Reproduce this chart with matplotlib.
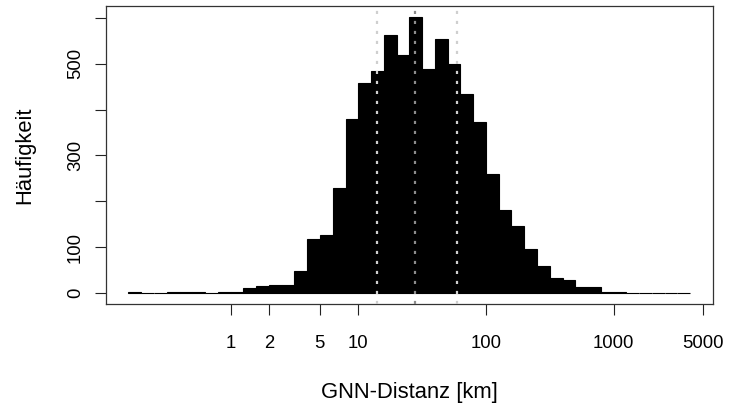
import numpy as np
import matplotlib
matplotlib.use("Agg")
import matplotlib.pyplot as plt

# histogram of log10(GNN distance in km), bin width 0.1
log_edges = np.round(np.arange(-0.8, 3.61, 0.1), 1)
counts = [2, 0, 0, 2, 2, 2, 0, 3,
          3, 10, 16, 18, 18, 48, 117, 126, 230, 379,
          457, 484, 562, 520, 602, 488, 555, 499, 435, 374,
          260, 182, 147, 96, 59, 33, 28, 13, 13, 3,
          3, 1, 1, 0, 1, 1]

# quartiles marked with dotted lines (km)
q_low, q_med, q_high = 13.9, 28.0, 59.1

xticks = [1, 2, 5, 10, 100, 1000, 5000]
xticklabels = ["1", "2", "5", "10", "100", "1000", "5000"]
yticks = [0, 100, 200, 300, 400, 500, 600]
yticklabels = ["0", "100", "", "300", "", "500", ""]

plt.rcParams["font.family"] = ["Liberation Sans", "DejaVu Sans"]

fig = plt.figure(figsize=(7.3, 4.07), dpi=100)
ax = fig.add_axes([106/730, 1 - 304/407, (712.7 - 106)/730, 298/407])

left = 10.0 ** log_edges[:-1]
right = 10.0 ** log_edges[1:]
ax.bar(left, counts, width=right - left, align="edge",
       color="black", edgecolor="black", linewidth=0.8, zorder=2)

dots = (0, (1.4, 3.1))
ax.axvline(q_low, color="#cfcfcf", lw=1.6, linestyle=dots, zorder=3)
ax.axvline(q_med, color="#8c8c8c", lw=1.6, linestyle=dots, zorder=3)
ax.axvline(q_high, color="#cfcfcf", lw=1.6, linestyle=dots, zorder=3)

ax.set_xscale("log")
span = log_edges[-1] - log_edges[0]
ax.set_xlim(10 ** (log_edges[0] - 0.04 * span), 10 ** (log_edges[-1] + 0.04 * span))
m = max(counts)
ax.set_ylim(-0.04 * m, 1.04 * m)

ax.set_xticks(xticks)
ax.set_xticklabels(xticklabels)
ax.xaxis.set_minor_locator(matplotlib.ticker.NullLocator())
ax.set_yticks(yticks)
ax.set_yticklabels(yticklabels, rotation=90, va="center")

ax.tick_params(axis="both", length=8, width=0.8, labelsize=13.3, color="#222222")
ax.tick_params(axis="x", pad=14)
ax.tick_params(axis="y", pad=8)
for s in ax.spines.values():
    s.set_linewidth(0.9)
    s.set_color("#333333")

ax.set_xlabel("GNN-Distanz [km]", fontsize=15.8, labelpad=22)
ax.set_ylabel("Häufigkeit", fontsize=15.8, labelpad=23)

fig.savefig("out.png", dpi=100)
